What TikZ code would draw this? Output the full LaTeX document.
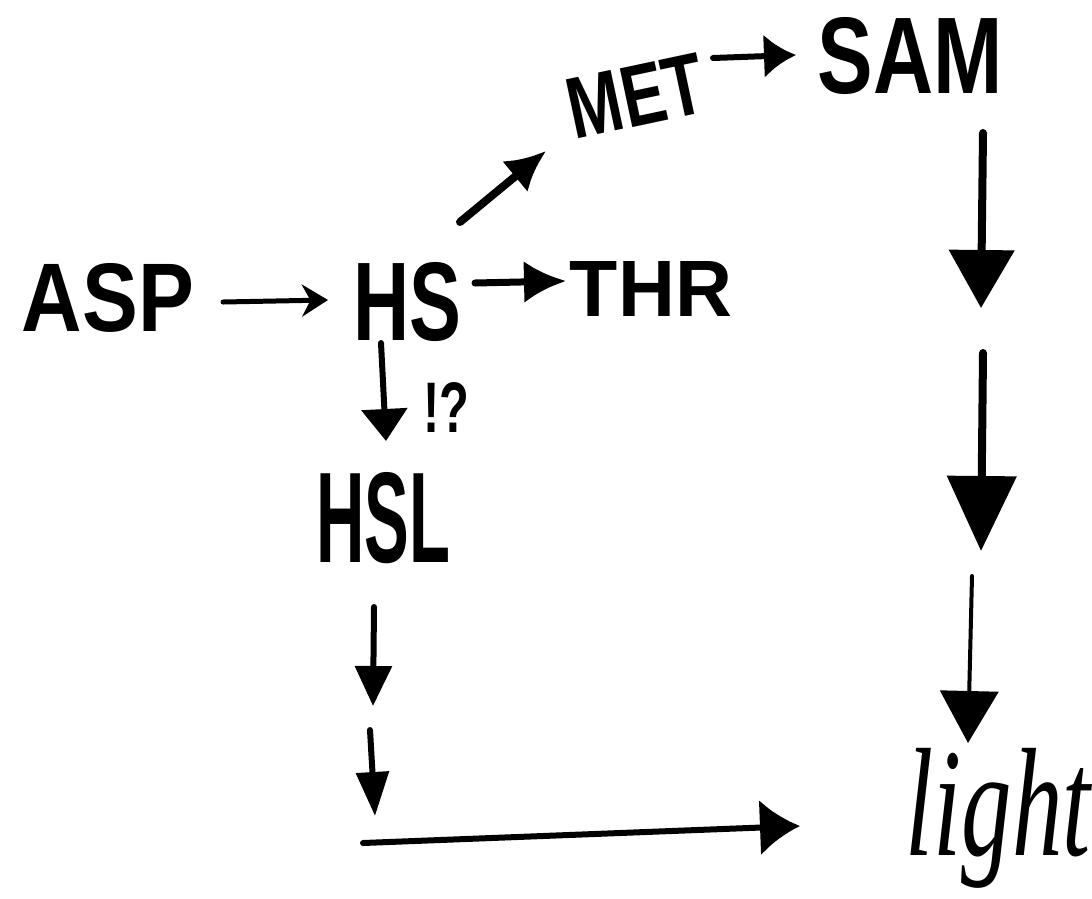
\documentclass[tikz,border=0pt]{standalone}
\usepackage{fontspec}
\setmainfont{Liberation Sans}
\newfontfamily\scriptface{Liberation Serif}
\usetikzlibrary{arrows.meta}
\tikzset{
  lbl/.style={inner sep=0pt, outer sep=0pt, font=\bfseries},
  link/.style={line width=#1, line cap=round},
  link/.default=6pt
}
\begin{document}
\begin{tikzpicture}[x=1pt,y=-1pt]
\path[use as bounding box, fill=white] (0,0) rectangle (1092,898);

% metabolites
\node[lbl] (asp) at (108,298) {\resizebox{172pt}{68pt}{ASP}};
\node[lbl] (hs)  at (407,302) {\resizebox{108pt}{78pt}{HS}};
\node[lbl] (thr) at (651,289) {\resizebox{162pt}{55pt}{THR}};
\node[lbl, rotate=12] (met) at (636,96) {\resizebox{138pt}{60pt}{MET}};
\node[lbl] (sam) at (910,56) {\resizebox{185pt}{76pt}{SAM}};
\node[lbl] (hsl) at (383,518) {\resizebox{134pt}{90pt}{HSL}};
\node[inner sep=0pt] (light) at (998,818) {\resizebox*{185pt}{140pt}{\scriptface\itshape light}};
\node[lbl] (q) at (446,407) {\resizebox{46pt}{50pt}{!?}};

% arrow ends next to each label
\coordinate (asp-out) at (223,302);
\coordinate (hs-in)   at (328,300);
\coordinate (hs-thr)  at (475,283);
\coordinate (thr-in)  at (566,281);
\coordinate (hs-met)  at (460,222);
\coordinate (met-in)  at (546,151);
\coordinate (met-out) at (713,58);
\coordinate (sam-in)  at (796,55);
\coordinate (sam-out) at (983,133);
\coordinate (r1)      at (981,308);
\coordinate (r2s)     at (983,353);
\coordinate (r2)      at (981,551);
\coordinate (r3s)     at (972,576);
\coordinate (light-top) at (968,743);
\coordinate (hs-down) at (381,343);
\coordinate (hsl-in)  at (386,441);
\coordinate (l1s)     at (374,607);
\coordinate (l1)      at (373,706);
\coordinate (l2s)     at (370,730);
\coordinate (l2)      at (375,816);
\coordinate (bs)      at (363,843);
\coordinate (light-left) at (800,826);

% ASP -> HS -> THR
\draw[link=5pt, -{Stealth[length=26pt,width=32pt]}] (asp-out) -- (hs-in);
\draw[link=7pt, -{Latex[length=42pt,width=42pt]}] (hs-thr) -- (thr-in);

% HS -> MET -> SAM
\draw[link=8pt, -{Latex[length=40pt,width=40pt]}] (hs-met) -- (met-in);
\draw[link=6pt, -{Latex[length=32pt,width=44pt]}] (met-out) -- (sam-in);

% SAM down to light
\draw[link=8pt, -{Triangle[length=58pt,width=64pt]}] (sam-out) -- (r1);
\draw[link=8pt, -{Triangle[length=75pt,width=68pt]}] (r2s) -- (r2);
\draw[link=4pt, -{Triangle[length=52pt,width=58pt]}] (r3s) -- (light-top);

% HS down to HSL, then round to light
\draw[link=6pt, -{Triangle[length=32pt,width=45pt]}] (hs-down) -- (hsl-in);
\draw[link=6pt, -{Triangle[length=40pt,width=36pt]}] (l1s) -- (l1);
\draw[link=6pt, -{Triangle[length=44pt,width=32pt]}] (l2s) -- (l2);
\draw[link=6pt, -{Latex[length=40pt,width=56pt]}] (bs) -- (light-left);
\end{tikzpicture}
\end{document}
